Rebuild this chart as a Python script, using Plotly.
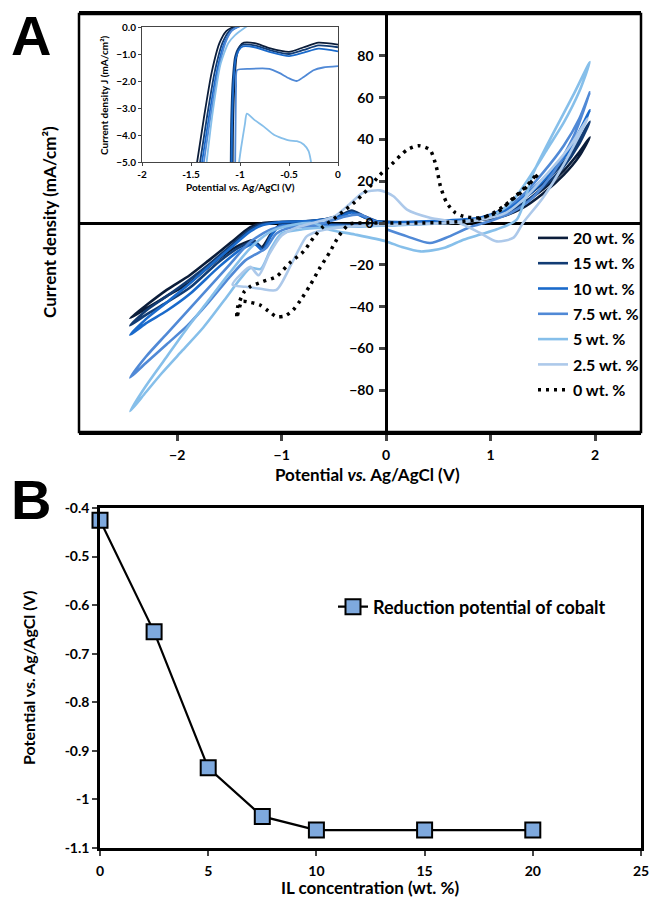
import plotly.graph_objects as go

# ---------------- panel A : cyclic voltammograms ----------------
labels = ["20 wt. %", "15 wt. %", "10 wt. %", "7.5 wt. %", "5 wt. %", "2.5 wt. %", "0 wt. %"]
colors = ["#0b1d3a", "#123c74", "#1a6acb", "#5089d6", "#86bfea", "#adc9ea", "#000000"]

x20 = [0.0, 0.5, 0.9, 1.1, 1.3, 1.5, 1.7, 1.85, 1.95, 1.85, 1.7, 1.5, 1.3, 1.1, 0.9, 0.6, 0.3, 0.0, -0.3, -0.6, -0.9,
       -1.02, -1.1, -1.19, -1.27, -1.4, -1.6, -1.88, -2.1, -2.3, -2.45, -2.3, -2.1, -1.88, -1.7, -1.49, -1.3, -1.18,
       -1.0, -0.7, -0.45, -0.32, -0.22, -0.1, 0.0]
y20 = [0.5, 0.5, 1.5, 3, 7, 14, 23, 32, 41, 34, 25, 16, 9, 4, 1.5, 0.3, -0.3, -0.8, -1, -0.6, -0.5,
       -1, -5, -11.5, -8.3, -10.5, -17, -28.5, -35, -41, -45.5, -39.5, -32, -25, -18, -9.5, -2, 0,
       0.5, 1, 3, 5.5, 3, 0.8, 0.5]

x15 = [0.0, 0.5, 0.9, 1.1, 1.3, 1.5, 1.7, 1.85, 1.95, 1.85, 1.7, 1.5, 1.3, 1.1, 0.9, 0.6, 0.3, 0.0, -0.3, -0.6, -0.9,
       -1.02, -1.1, -1.18, -1.26, -1.4, -1.6, -1.88, -2.1, -2.3, -2.45, -2.3, -2.1, -1.88, -1.7, -1.49, -1.3, -1.18,
       -1.0, -0.7, -0.45, -0.33, -0.22, -0.1, 0.0]
y15 = [0.5, 0.8, 2, 4, 9, 17, 27, 38, 48.5, 40, 29, 19, 11, 5, 2, 0.5, -0.3, -0.8, -1, -0.6, -0.5,
       -1, -5.5, -12, -9, -11.5, -18.5, -31, -38, -44, -49, -42, -35, -27, -20, -11, -3, -0.5,
       0.5, 1, 3.5, 6, 3.5, 1, 0.5]

x10 = [0.0, 0.5, 0.9, 1.1, 1.3, 1.5, 1.7, 1.85, 1.95, 1.85, 1.7, 1.5, 1.3, 1.1, 0.9, 0.6, 0.3, 0.0, -0.3, -0.6, -0.9,
       -1.02, -1.1, -1.18, -1.26, -1.4, -1.6, -1.88, -2.1, -2.3, -2.45, -2.3, -2.1, -1.88, -1.7, -1.49, -1.3, -1.18,
       -1.0, -0.7, -0.45, -0.33, -0.22, -0.1, 0.0]
y10 = [0.5, 1, 2.5, 5, 11, 20, 31, 43, 54, 44, 32, 21, 12, 6, 2.5, 0.5, -0.5, -1, -1.5, -1, -1,
       -1.5, -6, -13, -10, -13, -21, -34, -42, -48, -53.5, -46, -38, -29, -21, -12, -4, -1,
       0.5, 1, 3, 5, 3, 1, 0.5]

x75 = [0.0, 0.2, 0.42, 0.6, 0.8, 1.0, 1.2, 1.4, 1.6, 1.8, 1.95, 1.85, 1.7, 1.5, 1.3, 1.1, 0.9, 0.6, 0.3, 0.0, -0.3,
       -0.6, -0.9, -1.05, -1.15, -1.25, -1.35, -1.5, -1.7, -1.9, -2.1, -2.3, -2.45, -2.3, -2.1, -1.9, -1.7, -1.5,
       -1.3, -1.1, -0.9, -0.6, -0.4, -0.25, -0.12, 0.0]
y75 = [-3, -6.4, -9.6, -6.5, -2, 1, 5, 12, 24, 42, 62.5, 50, 37, 24, 13, 6, 2, 0.5, -0.5, -1, -1.5,
       -1.5, -2, -5, -12, -15, -18, -26, -38, -49, -58, -67, -74, -64, -53, -42, -31, -20,
       -9, -3, -1, 0, 3, 4, 1, -1]

x5 = [-0.54, -0.3, 0.0, 0.15, 0.33, 0.55, 0.74, 0.9, 1.06, 1.25, 1.41, 1.6, 1.8, 1.95, 1.85, 1.7, 1.55, 1.4, 1.2,
      1.0, 0.7, 0.4, 0.1, -0.2, -0.5, -0.8, -1.0, -1.1, -1.2, -1.3, -1.4, -1.55, -1.75, -1.95, -2.15, -2.3, -2.45,
      -2.3, -2.1, -1.9, -1.7, -1.5, -1.3, -1.1, -0.9, -0.7, -0.54]
y5 = [-3.2, -5.5, -8.8, -11.5, -13.6, -12, -8, -5.5, -3, 1.6, 24, 43, 62, 77, 63, 48, 36, 24, 10,
      3, 0.5, -0.5, -1, -1.5, -2, -3, -5, -12, -22, -21.5, -27, -37, -50, -61, -72, -81, -90,
      -78, -64, -50, -37, -24, -12, -4, -1, 0, -3.2]

x25 = [0.0, -0.3, -0.5, -0.65, -0.76, -0.9, -1.05, -1.2, -1.35, -1.47, -1.38, -1.3, -1.22, -1.12, -1.0, -0.85, -0.7,
       -0.5, -0.35, -0.22, -0.06, 0.07, 0.2, 0.42, 0.7, 0.9, 1.06, 1.22, 1.31, 1.5, 1.7, 1.93, 1.75, 1.55, 1.35,
       1.15, 0.9, 0.6, 0.3, 0.0]
y25 = [-1, -1.5, -2.5, -4, -6.4, -19, -32, -31.5, -30.5, -29.6, -24, -21, -25, -15, -6, -2, 0,
       3, 9, 14.5, 15.6, 12.8, 6.4, 2.5, 0, -4.8, -8.8, -7, 0, 12, 28, 50, 36, 24, 13,
       5, 1.5, 0, -0.5, -1]

x0 = [1.45, 1.3, 1.15, 1.0, 0.85, 0.6, 0.3, 0.0, -0.2, -0.35, -0.45, -0.54, -0.64, -0.73, -0.82, -0.89, -0.97,
      -1.05, -1.13, -1.21, -1.30, -1.38, -1.43, -1.42, -1.36, -1.30, -1.18, -1.05, -0.92, -0.79, -0.68, -0.6,
      -0.5, -0.4, -0.3, -0.18, -0.06, 0.05, 0.2, 0.31, 0.42, 0.48, 0.52, 0.58, 0.66, 0.74, 0.9, 1.06, 1.22,
      1.35, 1.45]
y0 = [23, 15, 9, 4, 1.5, 0.3, 0, 0, 0, -0.5, -6, -14, -22, -30, -37, -41.6, -44.5,
      -44.8, -42, -39.2, -38, -37.6, -45.5, -40, -33, -30.4, -28, -25.6, -19, -13.6, -6, -1.6,
      2, 6, 10, 16, 23, 28, 35, 37, 35, 27, 17.6, 9.7, 5, 3.2, 2.5, 5, 12,
      18, 24]

main_x = [x20, x15, x10, x75, x5, x25, x0]
main_y = [y20, y15, y10, y75, y5, y25, y0]

# inset: zoom on the onset of cobalt reduction (two branches per curve)
ix20 = [-1.45, -1.37, -1.29, -1.21, -1.14, -1.07, -1.0, None,
        -1.075, -1.07, -1.055, -1.035, -1.0, -0.96, -0.85, -0.7, -0.5, -0.35, -0.2, 0.0]
iy20 = [-5.3, -3.4, -1.7, -0.6, -0.15, 0.0, 0.1, None,
        -5.3, -3.5, -2.0, -1.1, -0.7, -0.58, -0.6, -0.78, -0.92, -0.75, -0.58, -0.65]
ix15 = [-1.42, -1.34, -1.26, -1.18, -1.11, -1.04, -0.97, None,
        -1.095, -1.09, -1.075, -1.05, -1.01, -0.97, -0.85, -0.7, -0.5, -0.35, -0.2, 0.0]
iy15 = [-5.3, -3.4, -1.7, -0.6, -0.15, 0.0, 0.1, None,
        -5.3, -3.5, -2.0, -1.1, -0.75, -0.65, -0.68, -0.85, -1.0, -0.85, -0.68, -0.75]
ix10 = [-1.40, -1.32, -1.24, -1.16, -1.09, -1.02, -0.95, None,
        -1.085, -1.08, -1.065, -1.045, -1.01, -0.97, -0.85, -0.7, -0.5, -0.35, -0.2, 0.0]
iy10 = [-5.3, -3.4, -1.7, -0.6, -0.15, 0.0, 0.1, None,
        -5.3, -3.5, -2.0, -1.2, -0.85, -0.72, -0.75, -0.92, -1.08, -0.95, -0.8, -0.9]
ix75 = [-1.38, -1.30, -1.22, -1.15, -1.08, -1.0, None,
        -1.05, -1.045, -1.04, -1.03, -0.9, -0.7, -0.6, -0.5, -0.42, -0.35, -0.25, -0.15, 0.0]
iy75 = [-5.3, -3.3, -1.6, -0.6, -0.12, 0.05, None,
        -5.3, -3.5, -2.2, -1.6, -1.55, -1.55, -1.7, -1.9, -2.0, -1.85, -1.6, -1.5, -1.45]
ix5 = [-1.35, -1.28, -1.2, -1.12, -1.05, -0.98, -0.92, None,
       -1.02, -0.99, -0.95, -0.93, -0.85, -0.76, -0.65, -0.5, -0.42, -0.35, -0.3, -0.27]
iy5 = [-5.3, -3.2, -1.4, -0.6, -0.3, -0.1, 0.05, None,
       -5.3, -4.5, -3.6, -3.21, -3.45, -3.68, -4.0, -4.2, -4.23, -4.35, -4.6, -5.1]

inset_x = [ix20, ix15, ix10, ix75, ix5]
inset_y = [iy20, iy15, iy10, iy75, iy5]

# ---------------- panel B : reduction potential vs IL content ----------------
conc = [0, 2.5, 5, 7.5, 10, 15, 20]
red_pot = [-0.425, -0.655, -0.935, -1.035, -1.063, -1.063, -1.063]

W, H = 653, 899
FONT = "Lato"

fig = go.Figure()

for i in range(len(labels)):
    dotted = labels[i] == "0 wt. %"
    fig.add_trace(go.Scatter(
        x=main_x[i], y=main_y[i], mode="lines",
        name="<b>" + labels[i] + "</b>",
        legendgroup=labels[i],
        line=dict(color=colors[i], width=3.5 if dotted else 2.6,
                  dash="3px,5px" if dotted else "solid",
                  shape="spline", smoothing=0.7),
        xaxis="x", yaxis="y", legend="legend",
    ))

for i in range(len(inset_x)):
    fig.add_trace(go.Scatter(
        x=inset_x[i], y=inset_y[i], mode="lines", showlegend=False,
        line=dict(color=colors[i], width=1.8, shape="spline", smoothing=0.6),
        xaxis="x2", yaxis="y2",
    ))

fig.add_trace(go.Scatter(
    x=conc, y=red_pot, mode="lines+markers",
    name="<b>Reduction potential of cobalt</b>",
    line=dict(color="black", width=2.2),
    marker=dict(symbol="square", size=15, color="#7ea9de", line=dict(color="black", width=2)),
    cliponaxis=False, xaxis="x3", yaxis="y3", legend="legend2",
))

# geometry (pixels of the 653x899 page)
ax_l, ax_r, ax_t, ax_b = 79, 641, 14, 432
xr = [-2.94, 2.44]
yaxis_pos = (ax_l + (0 - xr[0]) / (xr[1] - xr[0]) * (ax_r - ax_l)) / W

tick_font = dict(family=FONT, size=14, color="black", weight="bold")
small_font = dict(family=FONT, size=10, color="black", weight="bold")
b_font = dict(family=FONT, size=14, color="black", weight="bold")

fig.update_layout(
    template="none",
    width=W, height=H,
    margin=dict(l=0, r=0, t=0, b=0),
    paper_bgcolor="white", plot_bgcolor="white",
    font=dict(family=FONT, color="black"),
    xaxis=dict(domain=[ax_l / W, ax_r / W], range=xr, anchor="y", automargin=False,
               tickvals=[-2, -1, 0, 1, 2], ticks="outside", ticklen=6, tickwidth=2.5,
               ticklabelstandoff=2,
               showline=True, mirror=True, linewidth=2.5, linecolor="black",
               showgrid=False, zeroline=False, tickfont=tick_font),
    yaxis=dict(domain=[1 - ax_b / H, 1 - ax_t / H], range=[-100, 100], automargin=False,
               anchor="free", position=yaxis_pos,
               tickvals=[-80, -60, -40, -20, 0, 20, 40, 60, 80],
               ticks="outside", ticklen=6, tickwidth=2.5, ticklabelstandoff=3,
               showline=True, linewidth=2.5, linecolor="black",
               showgrid=False, zeroline=True, zerolinewidth=2.5, zerolinecolor="black",
               tickfont=tick_font),
    xaxis2=dict(domain=[142 / W, 338 / W], range=[-2, 0], anchor="y2", automargin=False,
                tickvals=[-2, -1.5, -1, -0.5, 0], ticktext=["-2", "-1.5", "-1", "-0.5", "0"],
                ticks="outside", ticklen=3, tickwidth=1, tickcolor="#444",
                showline=True, mirror=True, linewidth=1, linecolor="#444",
                showgrid=False, zeroline=False, tickfont=small_font),
    yaxis2=dict(domain=[1 - 162 / H, 1 - 27 / H], range=[-5, 0], anchor="x2", automargin=False,
                tickvals=[-5, -4, -3, -2, -1, 0], tickformat=".1f",
                ticks="outside", ticklen=3, tickwidth=1, tickcolor="#444",
                showline=True, mirror=True, linewidth=1, linecolor="#444",
                showgrid=False, zeroline=False, tickfont=small_font),
    xaxis3=dict(domain=[100 / W, 641 / W], range=[0, 25], anchor="y3", automargin=False,
                tickvals=[0, 5, 10, 15, 20, 25], ticks="outside", ticklen=5, tickwidth=2,
                ticklabelstandoff=3,
                showline=True, mirror=True, linewidth=2.5, linecolor="black",
                showgrid=False, zeroline=False, tickfont=b_font),
    yaxis3=dict(domain=[1 - 848 / H, 1 - 508 / H], range=[-1.1, -0.4], anchor="x3", automargin=False,
                tickvals=[-1.1, -1.0, -0.9, -0.8, -0.7, -0.6, -0.5, -0.4],
                ticktext=["-1.1", "-1", "-0.9", "-0.8", "-0.7", "-0.6", "-0.5", "-0.4"],
                ticks="outside", ticklen=5, tickwidth=2,
                showline=True, mirror=True, linewidth=2.5, linecolor="black",
                showgrid=False, zeroline=False, tickfont=b_font),
    legend=dict(x=533 / W, y=1 - 221 / H, xanchor="left", yanchor="top",
                bgcolor="rgba(0,0,0,0)", tracegroupgap=1.5, itemwidth=30,
                font=dict(family=FONT, size=16, color="black")),
    legend2=dict(x=333 / W, y=1 - 607 / H, xanchor="left", yanchor="middle",
                 bgcolor="rgba(0,0,0,0)", itemwidth=30,
                 font=dict(family=FONT, size=18, color="black")),
)

# frame around panel A (left and right sides; top/bottom come from the mirrored x axis)
fig.add_shape(type="rect", xref="x domain", yref="y domain", x0=0, x1=1, y0=0, y1=1,
              line=dict(color="black", width=2.5), layer="above")

annots = [
    dict(text="<b>A</b>", x=31 / W, y=1 - 36 / H, font=dict(family="Liberation Sans", size=56)),
    dict(text="<b>B</b>", x=31 / W, y=1 - 499 / H, font=dict(family="Liberation Sans", size=56)),
    dict(text="<b>Current density (mA/cm²)</b>", x=50 / W, y=1 - 222 / H, textangle=-90,
         font=dict(family=FONT, size=17)),
    dict(text="<b>Potential <i>vs.</i> Ag/AgCl (V)</b>", x=367 / W, y=1 - 474 / H,
         font=dict(family=FONT, size=17)),
    dict(text="<b>Current density J (mA/cm²)</b>", x=104 / W, y=1 - 95 / H, textangle=-90,
         font=dict(family=FONT, size=10)),
    dict(text="<b>Potential <i>vs.</i> Ag/AgCl (V)</b>", x=240 / W, y=1 - 187 / H,
         font=dict(family=FONT, size=10)),
    dict(text="<b>Potential vs. Ag/AgCl (V)</b>", x=28 / W, y=1 - 678 / H, textangle=-90,
         font=dict(family=FONT, size=16)),
    dict(text="<b>IL concentration (wt. %)</b>", x=370 / W, y=1 - 887 / H,
         font=dict(family=FONT, size=17)),
]
for a in annots:
    a["font"]["color"] = "black"
    fig.add_annotation(xref="paper", yref="paper", showarrow=False,
                       xanchor="center", yanchor="middle", **a)

# the page body has a default 8px margin; remove it so the figure fills the window exactly
fig.write_html("out.html", config={"displayModeBar": False},
               post_script="document.body.style.margin='0';")
